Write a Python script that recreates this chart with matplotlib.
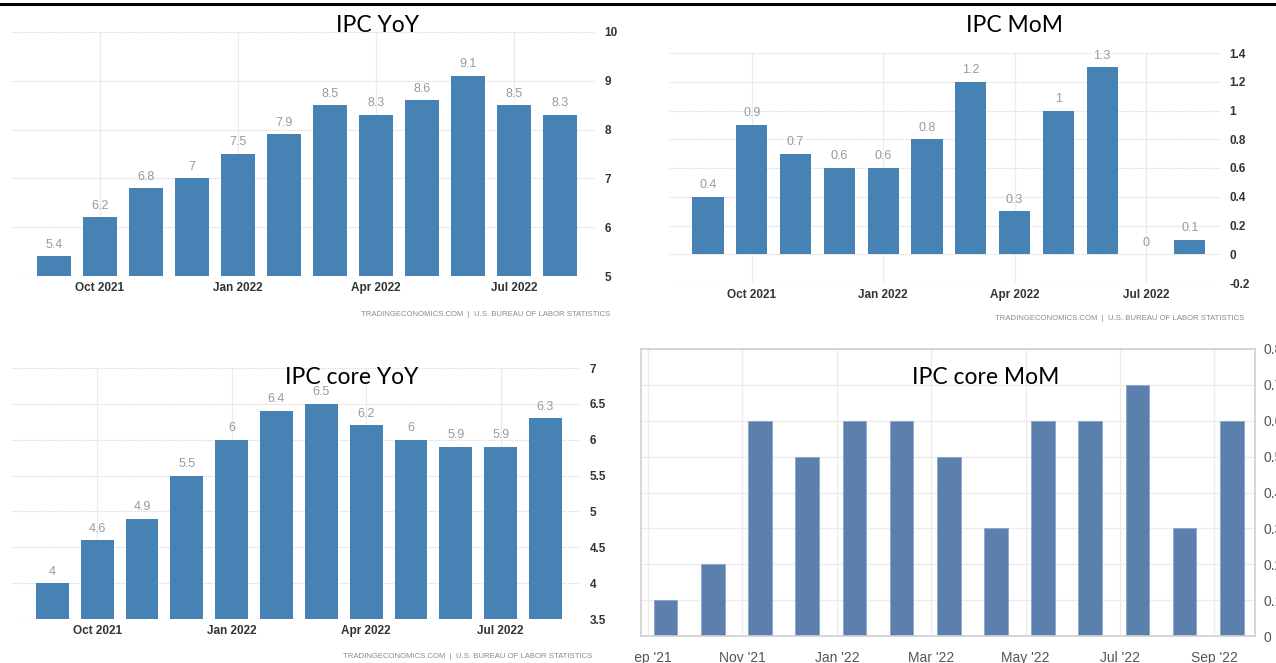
import matplotlib.pyplot as plt
from matplotlib.transforms import Bbox, TransformedBbox

W, H = 1276, 663

# monthly CPI readings (percent)
cpi_yoy = [5.4, 6.2, 6.8, 7.0, 7.5, 7.9, 8.5, 8.3, 8.6, 9.1, 8.5, 8.3]
cpi_mom = [0.4, 0.9, 0.7, 0.6, 0.6, 0.8, 1.2, 0.3, 1.0, 1.3, 0.0, 0.1]
core_yoy = [4.0, 4.6, 4.9, 5.5, 6.0, 6.4, 6.5, 6.2, 6.0, 5.9, 5.9, 6.3]
core_mom = [0.1, 0.2, 0.6, 0.5, 0.6, 0.6, 0.5, 0.3, 0.6, 0.6, 0.7, 0.3, 0.6]

te_ticks = ['Oct 2021', 'Jan 2022', 'Apr 2022', 'Jul 2022']
te_tick_pos = [1, 4, 7, 10]
core_mom_ticks = ["Sep '21", "Nov '21", "Jan '22", "Mar '22", "May '22", "Jul '22", "Sep '22"]
core_mom_tick_pos = [0, 2, 4, 6, 8, 10, 12]

yoy_ticks = [5, 6, 7, 8, 9, 10]
mom_ticks = [-0.2, 0, 0.2, 0.4, 0.6, 0.8, 1, 1.2, 1.4]
core_yoy_ticks = [3.5, 4, 4.5, 5, 5.5, 6, 6.5, 7]
core_mom_yticks = [0, 0.1, 0.2, 0.3, 0.4, 0.5, 0.6, 0.7, 0.8]

SANS = ['Liberation Sans', 'DejaVu Sans']
TITLE = ['Lato', 'DejaVu Sans']
TE_BLUE = '#4682b4'
SOURCE = 'TRADINGECONOMICS.COM  |  U.S. BUREAU OF LABOR STATISTICS'

fig = plt.figure(figsize=(W / 100, H / 100), dpi=100)
fig.patch.set_facecolor('white')


def px_axes(left, top, right, bottom):
    return fig.add_axes([left / W, 1 - bottom / H, (right - left) / W, (bottom - top) / H])


def fig_text(x, y, s, **kw):
    fig.text(x / W, 1 - y / H, s, **kw)


def te_panel(rect, values, yticks, xlim, width, title, title_xy, source_xy):
    ax = px_axes(*rect)
    x = range(len(values))
    ax.bar(x, values, width=width, color=TE_BLUE, zorder=2)
    for xi, v in zip(x, values):
        ax.annotate('{:g}'.format(v), (xi, v), xytext=(0, 4), textcoords='offset points',
                    ha='center', va='bottom', fontsize=9, color='#9a9a9a', family=SANS)
    ax.set_xlim(*xlim)
    ax.set_ylim(yticks[0], yticks[-1])
    ax.set_xticks(te_tick_pos, te_ticks)
    ax.set_yticks(yticks, ['{:g}'.format(t) for t in yticks])
    ax.yaxis.tick_right()
    ax.tick_params(length=0, labelsize=8.5, labelcolor='#333333')
    ax.tick_params(axis='y', pad=7)
    ax.tick_params(axis='x', pad=4)
    for lbl in ax.get_xticklabels() + ax.get_yticklabels():
        lbl.set_family(SANS)
        lbl.set_fontweight('bold')
    ax.grid(axis='y', color='#d8d8d8', linestyle=(0, (1, 1)), linewidth=0.8, zorder=0)
    ax.grid(axis='x', color='#ececec', linestyle='-', linewidth=0.9, zorder=0)
    for s in ax.spines.values():
        s.set_visible(False)
    fig_text(*title_xy, title, ha='center', va='center', fontsize=16.5, family=TITLE)
    fig_text(*source_xy, SOURCE, ha='right', va='center', fontsize=5.6, color='#8a8a8a',
             family=SANS)
    return ax


# thin black rule across the top
fig.add_artist(plt.Line2D([0, 1], [1 - 3.6 / H, 1 - 3.6 / H], color='black', linewidth=2.2))

te_panel((12, 32, 595, 276), cpi_yoy, yoy_ticks, (-0.91, 11.76), 0.74,
         'IPC YoY', (378, 25), (610, 315))
te_panel((669, 53, 1220, 283), cpi_mom, mom_ticks, (-0.89, 11.69), 0.71,
         'IPC MoM', (1015, 25), (1244, 318))
te_panel((12, 368, 580, 619), core_yoy, core_yoy_ticks, (-0.90, 11.77), 0.73,
         'IPC core YoY', (352, 378), (592, 657))

# core MoM panel, boxed layout
ax = px_axes(641, 349, 1255, 636)
ax.bar(range(len(core_mom)), core_mom, width=0.5, color='#5b80ad', edgecolor='#8aa6c8',
       linewidth=0.6, zorder=2)
ax.set_xlim(-0.52, 12.49)
ax.set_ylim(0, 0.8)
ax.set_xticks([p - 0.37 for p in core_mom_tick_pos], core_mom_ticks)
ax.set_yticks(core_mom_yticks, ['{:g}'.format(t) for t in core_mom_yticks])
ax.yaxis.tick_right()
ax.tick_params(length=0, labelsize=10, labelcolor='#555555')
ax.tick_params(axis='x', pad=11)
ax.tick_params(axis='y', pad=6)
for lbl in ax.get_xticklabels() + ax.get_yticklabels():
    lbl.set_family(SANS)
ax.grid(color='#ececec', linewidth=1.0, zorder=0)
for s in ax.spines.values():
    s.set_color('#d0d0d0')
    s.set_linewidth(1.2)
# the first month label runs off the left edge of this panel
clip = TransformedBbox(Bbox.from_extents(635 / W, 0, 1, 1), fig.transFigure)
for tick in ax.xaxis.get_major_ticks():
    tick.label1.set_clip_box(clip)
    tick.label1.set_clip_on(True)
fig_text(986, 378, 'IPC core MoM', ha='center', va='center', fontsize=16.5, family=TITLE)

fig.savefig('out.png', dpi=100)
